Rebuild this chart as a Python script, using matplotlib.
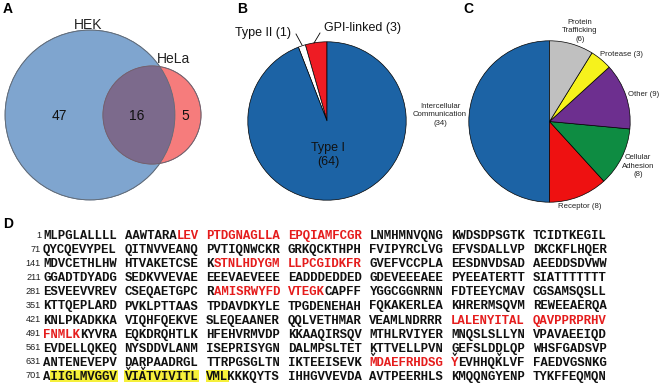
import matplotlib
matplotlib.use("Agg")
import matplotlib.pyplot as plt
from matplotlib.patches import Circle, Rectangle
import numpy as np

# ---------------- data ----------------
venn_names = ["HEK", "HeLa"]
venn_hek_only = 47
venn_both = 16
venn_hela_only = 5

topo_labels = ["GPI-linked", "Type II", "Type I"]
topo_counts = [3, 1, 64]
topo_colors = ["#ee1c24", "#ffffff", "#1c63a5"]

func_labels = ["Intercellular\nCommunication", "Receptor", "Cellular\nAdhesion",
               "Other", "Protease", "Protein\nTrafficking"]
func_counts = [34, 8, 8, 9, 3, 6]
func_colors = ["#1c63a5", "#ee1111", "#0e8c42", "#6d2f8f", "#f6f21c", "#c0c0c0"]

seq_starts = [1, 71, 141, 211, 281, 351, 421, 491, 561, 631, 701]
seq_lines = [
    "MLPGLALLLLAAWTARALEVPTDGNAGLLAEPQIAMFCGRLNMHMNVQNGKWDSDPSGTKTCIDTKEGIL",
    "QYCQEVYPELQITNVVEANQPVTIQNWCKRGRKQCKTHPHFVIPYRCLVGEFVSDALLVPDKCKFLHQER",
    "MDVCETHLHWHTVAKETCSEKSTNLHDYGMLLPCGIDKFRGVEFVCCPLAEESDNVDSADAEEDDSDVWW",
    "GGADTDYADGSEDKVVEVAEEEEVAEVEEEEADDDEDDEDGDEVEEEAEEPYEEATERTTSIATTTTTTT",
    "ESVEEVVREVCSEQAETGPCRAMISRWYFDVTEGKCAPFFYGGCGGNRNNFDTEEYCMAVCGSAMSQSLL",
    "KTTQEPLARDPVKLPTTAASTPDAVDKYLETPGDENEHAHFQKAKERLEAKHRERMSQVMREWEEAERQA",
    "KNLPKADKKAVIQHFQEKVESLEQEAANERQQLVETHMARVEAMLNDRRRLALENYITALQAVPPRPRHV",
    "FNMLKKYVRAEQKDRQHTLKHFEHVRMVDPKKAAQIRSQVMTHLRVIYERMNQSLSLLYNVPAVAEEIQD",
    "EVDELLQKEQNYSDDVLANMISEPRISYGNDALMPSLTETKTTVELLPVNGEFSLDDLQPWHSFGADSVP",
    "ANTENEVEPVDARPAADRGLTTRPGSGLTNIKTEEISEVKMDAEFRHDSGYEVHHQKLVFFAEDVGSNKG",
    "AIIGLMVGGVVIATVIVITLVMLKKKQYTSIHHGVVEVDAAVTPEERHLSKMQQNGYENPTYKFFEQMQN",
]
red_ranges = [(18, 40), (162, 180), (302, 315), (471, 495), (671, 681)]
yellow_ranges = [(702, 723)]
caret_sites = [671, 681, 687, 711, 713]

# ---------------- figure ----------------
W, H, DPI = 661, 384, 100
fig = plt.figure(figsize=(W / DPI, H / DPI), dpi=DPI)
SANS = ["Liberation Sans", "DejaVu Sans"]
MONO = ["Liberation Mono", "DejaVu Sans Mono"]


def px_axes(x0, y0, w, h):
    return fig.add_axes([x0 / W, 1 - (y0 + h) / H, w / W, h / H])


# Pie B
axB = px_axes(247, 41, 160, 160)
axB.pie(topo_counts, colors=topo_colors, startangle=90, counterclock=True,
        wedgeprops=dict(edgecolor="black", linewidth=0.5))
axB.set_xlim(-1.01, 1.01)
axB.set_ylim(-1.01, 1.01)

# Pie C
axC = px_axes(468, 40, 163, 163)
axC.pie(func_counts, colors=func_colors, startangle=90, counterclock=True,
        wedgeprops=dict(edgecolor="black", linewidth=0.5))
axC.set_xlim(-1.01, 1.01)
axC.set_ylim(-1.01, 1.01)

# Overlay in pixel coordinates
ov = fig.add_axes([0, 0, 1, 1])
ov.set_xlim(0, W)
ov.set_ylim(H, 0)
ov.axis("off")
ov.patch.set_alpha(0)

# ---- Panel A: Venn ----
k = 10.7
r_hek = k * np.sqrt(venn_hek_only + venn_both)
r_hela = k * np.sqrt(venn_hela_only + venn_both)
c_hek = (90, 115)
c_hela = (152, 115)
hek = Circle(c_hek, r_hek, facecolor="#7fa5cf", edgecolor="#6e7f92", lw=0.6, zorder=1)
hela = Circle(c_hela, r_hela, facecolor="#f67c7c", edgecolor="#8a6a6a", lw=0.6, zorder=2)
ov.add_patch(hek)
ov.add_patch(hela)
clip = Circle(c_hek, r_hek, transform=ov.transData)
ov_overlap = Circle(c_hela, r_hela, facecolor="#7c6a8c", edgecolor="none", zorder=3)
ov.add_patch(ov_overlap)
ov_overlap.set_clip_path(clip)
ov.add_patch(Circle(c_hek, r_hek, facecolor="none", edgecolor="#5f6a78", lw=0.6, zorder=4))
ov.add_patch(Circle(c_hela, r_hela, facecolor="none", edgecolor="#6f6070", lw=0.6, zorder=4))
ov.text(88, 25, venn_names[0], ha="center", va="center", fontsize=10, family=SANS, color="#222")
ov.text(174, 59, venn_names[1], ha="center", va="center", fontsize=10, family=SANS, color="#222")
ov.text(59, 116, str(venn_hek_only), ha="center", va="center", fontsize=10, family=SANS, color="#111", zorder=5)
ov.text(137, 116, str(venn_both), ha="center", va="center", fontsize=10, family=SANS, color="#111", zorder=5)
ov.text(185, 116, str(venn_hela_only), ha="center", va="center", fontsize=10, family=SANS, color="#111", zorder=5)

# ---- Panel letters ----
for letter, x, y in [("A", 3, 9), ("B", 237, 9), ("C", 463, 9), ("D", 3, 224)]:
    ov.text(x, y, letter, ha="left", va="center", fontsize=10, fontweight="bold", family=SANS)

# ---- Panel B labels ----
ov.text(328, 155, f"{topo_labels[2]}\n({topo_counts[2]})", ha="center", va="center",
        fontsize=9, family=SANS, color="#111", linespacing=1.2)
ov.text(263, 33, f"{topo_labels[1]} ({topo_counts[1]})", ha="center", va="center",
        fontsize=9, family=SANS, color="#111")
ov.text(362, 28, f"{topo_labels[0]} ({topo_counts[0]})", ha="center", va="center",
        fontsize=9, family=SANS, color="#111")
ov.plot([296, 302], [34, 45], color="black", lw=0.6)
ov.plot([320, 314], [33, 43], color="black", lw=0.6)

# ---- Panel C labels ----
c_pos = [(440, 115), (580, 206), (638, 166), (644, 94), (622, 54), (580, 31)]
for lab, cnt, (x, y) in zip(func_labels, func_counts, c_pos):
    if "\n" in lab:
        txt = f"{lab}\n({cnt})"
    else:
        txt = f"{lab} ({cnt})"
    ov.text(x, y, txt, ha="center", va="center", fontsize=5.6, family=SANS,
            color="#222", linespacing=1.25)

# ---- Panel D: sequence ----
x0 = 43.0
cw = 7.42
row0 = 235.0
dy = 14.1
fs = cw / 0.6 * 72 / DPI


def col_of(i):
    return (i // 10) * 11 + (i % 10)


def in_ranges(r, ranges):
    return any(a <= r <= b for a, b in ranges)


for li, (start, line) in enumerate(zip(seq_starts, seq_lines)):
    y = row0 + li * dy
    ov.text(41, y + 2.5, str(start), ha="right", va="baseline", fontsize=6.6,
            family=SANS, color="#222")
    # highlights
    for bi in range(0, len(line), 10):
        run = [i for i in range(bi, min(bi + 10, len(line)))
               if in_ranges(start + i, yellow_ranges)]
        if run:
            xa = x0 + col_of(run[0]) * cw
            ov.add_patch(Rectangle((xa - 0.5, y - 6.3), len(run) * cw + 1, 12.6,
                                   facecolor="#f6f03a", edgecolor="none", zorder=1))
    # segments
    i = 0
    while i < len(line):
        red = in_ranges(start + i, red_ranges)
        j = i
        seg = ""
        while j < len(line) and in_ranges(start + j, red_ranges) == red and (j == i or j % 10 != 0):
            seg += line[j]
            j += 1
        ov.text(x0 + col_of(i) * cw, y + 4, seg, ha="left", va="baseline",
                fontsize=fs, fontweight="bold", family=MONO,
                color="#e51c1c" if red else "#111111", zorder=3)
        i = j
    # caret marks above modified residues
    for s in caret_sites:
        if start <= s < start + len(line):
            xc = x0 + (col_of(s - start) + 0.5) * cw
            ov.plot([xc - 1.6, xc, xc + 1.6], [y - 8.8, y - 6.3, y - 8.8],
                    color="#111", lw=0.8, zorder=4, solid_joinstyle="miter")

fig.savefig("out.png", dpi=DPI)
